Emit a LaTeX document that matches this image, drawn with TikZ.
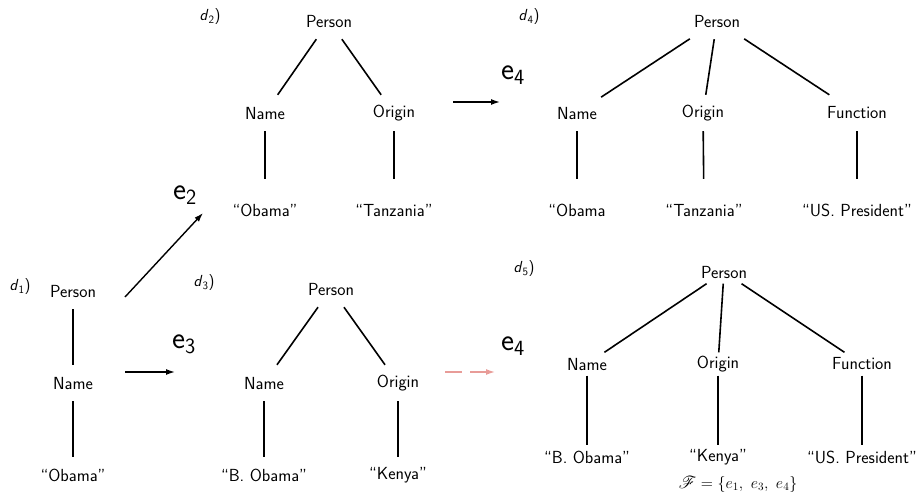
\RequirePackage{fix-cm}
\documentclass[tikz,border=0pt]{standalone}
\usepackage{mathrsfs}
\usepackage{fontspec}
\usetikzlibrary{arrows.meta}

% sans labels with sans subscripts
\newcommand{\dlab}[1]{\textit{d}$_{\mathsf{#1}}$)}
\newcommand{\elab}[1]{$\mathsf{e}_{\mathsf{#1}}$}

\tikzset{
  every node/.style={font=\sffamily\fontsize{17.5}{20}\selectfont},
  tn/.style={inner xsep=4pt, inner ysep=0pt, minimum height=36pt},
  leafhi/.style={inner xsep=4pt, inner ysep=0pt, minimum height=62pt},
  tight/.style={inner xsep=4pt, inner ysep=0pt, minimum height=23pt},
  dlabel/.style={font=\sffamily\fontsize{16}{18}\selectfont},
  elabel/.style={font=\sffamily\fontsize{31}{34}\selectfont},
  edge/.style={line width=1.6pt},
  arr/.style={line width=1.4pt, -{Latex[length=9pt,width=6pt]}},
  darr/.style={line width=1.4pt, draw={rgb,255:red,232;green,156;blue,152},
    dash pattern=on 17pt off 8pt, -{Latex[length=9pt,width=6pt]}},
}

\begin{document}
\begin{tikzpicture}[x=1pt,y=-1pt]
\useasboundingbox (0,0) rectangle (918,495);

% ---- d1 ----
\node[dlabel] (l1) at (20,287) {\dlab{1}};
\node[tn] (p1) at (73,291) {Person};
\node[tn] (n1) at (73,383) {Name};
\node[tn] (v1) at (73,475) {“Obama”};
\draw[edge] (p1) -- (n1);
\draw[edge] (n1) -- (v1);

% ---- transitions out of d1 ----
\coordinate (a2s) at (125,297);
\coordinate (a2e) at (203,213);
\draw[arr] (a2s) -- (a2e);
\node[elabel] (e2) at (185,195) {\elab{2}};

\coordinate (a3s) at (125,372);
\coordinate (a3e) at (175,372);
\draw[arr] (a3s) -- (a3e);
\node[elabel] (e3) at (184,344) {\elab{3}};

% ---- d2 ----
\node[dlabel] (l2) at (210,17) {\dlab{2}};
\node[tn] (p2) at (329,21) {Person};
\node[tn] (n2) at (265,113) {Name};
\node[tn] (o2) at (394,113) {Origin};
\node[leafhi] (vn2) at (265,210) {“Obama”};
\node[leafhi] (vo2) at (394,210) {“Tanzania”};
\draw[edge] (p2) -- (n2);
\draw[edge] (p2) -- (o2);
\draw[edge] (n2) -- (vn2);
\draw[edge] (o2) -- (vo2);

% ---- d2 to d4 ----
\coordinate (a4s) at (453,102);
\coordinate (a4e) at (500,102);
\draw[arr] (a4s) -- (a4e);
\node[elabel] (e4a) at (513,75) {\elab{4}};

% ---- d4 ----
\node[dlabel] (l4) at (529,17) {\dlab{4}};
\node[tn] (p4) at (717,21) {Person};
\node[tn] (n4) at (577,113) {Name};
\node[tn] (o4) at (703,113) {Origin};
\node[tn] (f4) at (857,113) {Function};
\node[leafhi] (vn4) at (577,210) {“Obama};
\node[leafhi] (vo4) at (704,210) {“Tanzania”};
\node[leafhi] (vf4) at (857,210) {“US. President”};
\draw[edge] (p4) -- (n4);
\draw[edge] (p4) -- (o4);
\draw[edge] (p4) -- (f4);
\draw[edge] (n4) -- (vn4);
\draw[edge] (o4) -- (vo4);
\draw[edge] (f4) -- (vf4);

% ---- d3 ----
\node[dlabel] (l3) at (204,283) {\dlab{3}};
\node[tn] (p3) at (331,289) {Person};
\node[tn] (n3) at (264,383) {Name};
\node[tn] (o3) at (398,383) {Origin};
\node[tn] (vn3) at (264,475) {“B. Obama”};
\node[tn] (vo3) at (398,475) {“Kenya”};
\draw[edge] (p3) -- (n3);
\draw[edge] (p3) -- (o3);
\draw[edge] (n3) -- (vn3);
\draw[edge] (o3) -- (vo3);

% ---- d3 to d5 (pending) ----
\coordinate (a5s) at (445,372);
\coordinate (a5e) at (495,372);
\draw[darr] (a5s) -- (a5e);
\node[elabel] (e4b) at (513,346) {\elab{4}};

% ---- d5 ----
\node[dlabel] (l5) at (524,269) {\dlab{5}};
\node[tight] (p5) at (724,272) {Person};
\node[tight] (n5) at (587,364) {Name};
\node[tight] (o5) at (718,364) {Origin};
\node[tight] (f5) at (862,364) {Function};
\node[tight] (vn5) at (587,457) {“B. Obama”};
\node[tight] (vo5) at (718,457) {“Kenya”};
\node[tight] (vf5) at (862,457) {“US. President”};
\draw[edge] (p5) -- (n5);
\draw[edge] (p5) -- (o5);
\draw[edge] (p5) -- (f5);
\draw[edge] (n5) -- (vn5);
\draw[edge] (o5) -- (vo5);
\draw[edge] (f5) -- (vf5);
\node[font=\fontsize{16}{18}\selectfont] (fam) at (738,484) {$\mathscr{F}=\{e_1,\ e_3,\ e_4\}$};
\end{tikzpicture}
\end{document}
